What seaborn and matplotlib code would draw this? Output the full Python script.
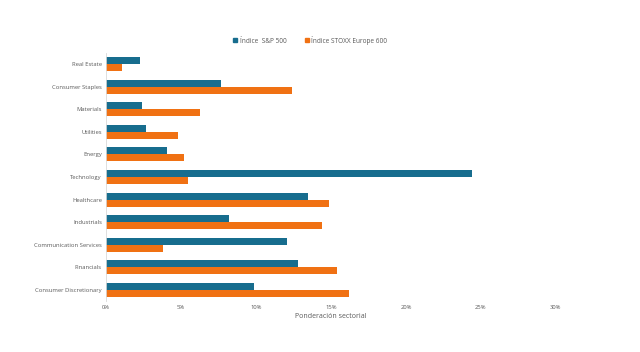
import matplotlib
matplotlib.use("Agg")
import matplotlib.pyplot as plt
import seaborn as sns
import pandas as pd
from matplotlib.ticker import FuncFormatter

sectors = ['Real Estate', 'Consumer Staples', 'Materials', 'Utilities', 'Energy',
           'Technology', 'Healthcare', 'Industrials', 'Communication Services',
           'Financials', 'Consumer Discretionary']
sp500 = [2.3, 7.7, 2.4, 2.7, 4.1, 24.4, 13.5, 8.2, 12.1, 12.8, 9.9]
stoxx600 = [1.1, 12.4, 6.3, 4.8, 5.2, 5.5, 14.9, 14.4, 3.8, 15.4, 16.2]
series = ['Índice  S&P 500', 'Índice STOXX Europe 600']
colors = ['#176D8E', '#F07113']
xticks = [0, 5, 10, 15, 20, 25, 30]

df = pd.DataFrame({'Sector': sectors * 2,
                   'Serie': [series[0]] * len(sectors) + [series[1]] * len(sectors),
                   'Valor': sp500 + stoxx600})

sns.set_theme(style='white')
plt.rcParams['font.family'] = ['Open Sans', 'DejaVu Sans']

fig = plt.figure(figsize=(6.4, 3.52), dpi=100)
ax = fig.add_axes([0.1656, 0.144, 0.703, 0.706])
sns.barplot(data=df, y='Sector', x='Valor', hue='Serie', order=sectors,
            hue_order=series, palette=colors, width=0.62, ax=ax,
            saturation=1, linewidth=0, legend=True)

ax.set_xlim(0, 30)
ax.set_xticks(xticks)
ax.xaxis.set_major_formatter(FuncFormatter(lambda v, p: f'{v:.0f}%'))
ax.tick_params(axis='both', length=0, labelsize=4.2, colors='#595959', pad=3)
ax.set_xlabel('Ponderación sectorial', fontsize=5, color='#595959', labelpad=2)
ax.set_ylabel('')
for s in ['top', 'right', 'bottom']:
    ax.spines[s].set_visible(False)
ax.spines['left'].set_color('#D9D9D9')
ax.spines['left'].set_linewidth(0.6)

ax.legend_.remove()
handles = [plt.Rectangle((0, 0), 1, 1, color=c) for c in colors]
fig.legend(handles, series, loc='center', bbox_to_anchor=(0.485, 0.886), ncol=2,
           frameon=False, fontsize=4.7, labelcolor='#595959', handlelength=0.6,
           handleheight=0.6, handletextpad=0.4, columnspacing=2.8)

fig.savefig('out.png', dpi=100)
